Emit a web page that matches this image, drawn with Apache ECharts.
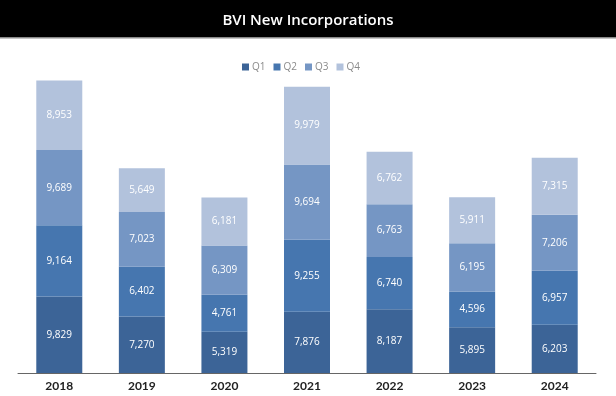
<!DOCTYPE html>
<html>
<head>
<meta charset="utf-8">
<script src="https://cdn.jsdelivr.net/npm/echarts@6/dist/echarts.min.js"></script>
<style>
  html, body { margin: 0; padding: 0; background: #fff; }
  #chart { width: 616px; height: 396px; }
</style>
</head>
<body>
<div id="chart"></div>
<script>
// 年份
const years = ["2018", "2019", "2020", "2021", "2022", "2023", "2024"];
// 每季度新注册数量
const q1 = [9829, 7270, 5319, 7876, 8187, 5895, 6203];
const q2 = [9164, 6402, 4761, 9255, 6740, 4596, 6957];
const q3 = [9689, 7023, 6309, 9694, 6763, 6195, 7206];
const q4 = [8953, 5649, 6181, 9979, 6762, 5911, 7315];

const seriesNames = ["Q1", "Q2", "Q3", "Q4"];
const colors = ["#3c6497", "#4676af", "#7596c4", "#b2c2dc"];

const myChart = echarts.init(document.getElementById("chart"));

function makeSeries(name, data) {
  return {
    name: name,
    type: "bar",
    stack: "total",
    barWidth: 46,
    data: data,
    label: {
      show: true,
      position: "inside",
      color: "#fff",
      fontSize: 10,
      fontFamily: "Open Sans",
      formatter: p => p.value.toLocaleString("en-US")
    }
  };
}

const option = {
  color: colors,
  animation: false,
  title: {
    text: "BVI New Incorporations",
    left: "center",
    top: 8,
    textStyle: {
      color: "#fff",
      fontSize: 15,
      fontWeight: 600,
      fontFamily: "Open Sans"
    }
  },
  graphic: [
    { type: "rect", z: -1, shape: { x: 0, y: 0, width: 616, height: 37 }, style: { fill: "#000" } },
    { type: "rect", z: -1, shape: { x: 0, y: 37, width: 616, height: 1.5 }, style: { fill: "#8a8a8a" } }
  ],
  legend: {
    data: seriesNames,
    top: 57,
    left: 237,
    itemWidth: 7,
    itemHeight: 7,
    itemGap: 8,
    icon: "rect",
    textStyle: { color: "#8a8a8a", fontSize: 10, fontFamily: "Open Sans", padding: [0, 0, 0, -2] }
  },
  grid: {
    left: 18,
    right: 20,
    top: 62,
    bottom: 23
  },
  xAxis: {
    type: "category",
    data: years,
    axisTick: { show: false },
    axisLine: { lineStyle: { color: "#666", width: 1 } },
    axisLabel: {
      color: "#222",
      fontSize: 12,
      fontWeight: "bold",
      fontFamily: "Lato",
      margin: 7
    }
  },
  yAxis: {
    type: "value",
    min: 0,
    max: 40000,
    show: false,
    splitLine: { show: false }
  },
  series: [
    makeSeries("Q1", q1),
    makeSeries("Q2", q2),
    makeSeries("Q3", q3),
    makeSeries("Q4", q4)
  ]
};
myChart.setOption(option);
</script>
</body>
</html>
